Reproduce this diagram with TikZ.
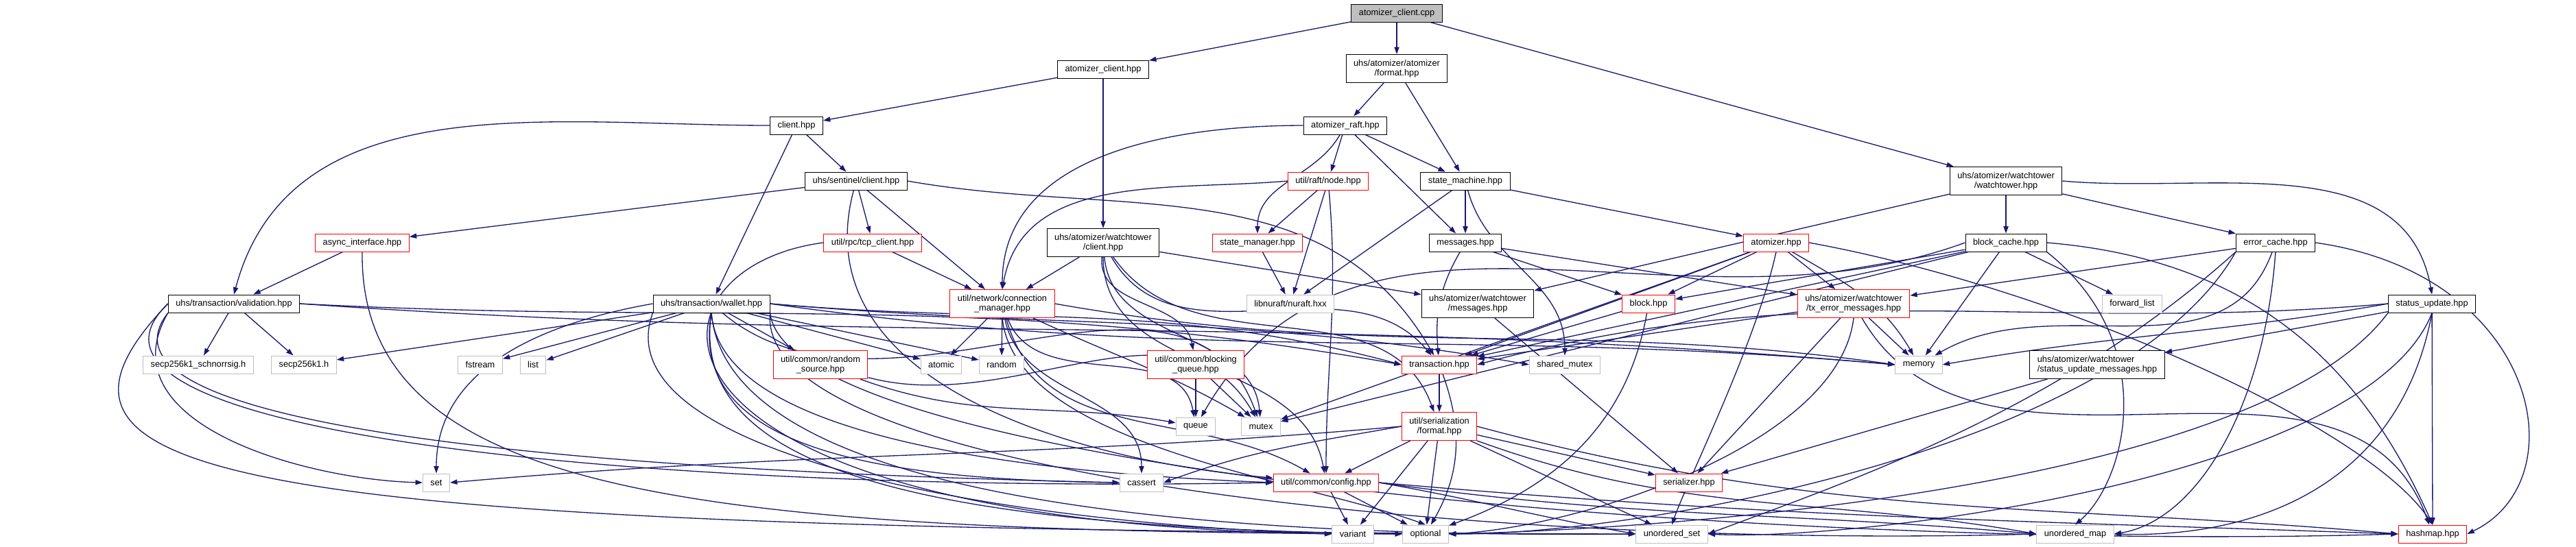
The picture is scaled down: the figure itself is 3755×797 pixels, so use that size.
\documentclass[tikz,border=0pt]{standalone}
\usepackage{fontspec}
\setmainfont{Liberation Sans}
\usepackage{tikz}
\usetikzlibrary{arrows.meta,positioning,backgrounds}

\definecolor{edgeblue}{HTML}{191970}
\definecolor{sysgray}{HTML}{BFBFBF}
\definecolor{rootgray}{HTML}{BFBFBF}

\begin{document}
\begin{tikzpicture}[x=0.25pt, y=0.25pt, every node/.style={font=\fontsize{3.2}{3.62}\selectfont}]

    % Box and edge styles
    \tikzset{
        filebox/.style={draw=black, fill=white, line width=0.25pt, minimum height=6.5pt, inner xsep=2.75pt, inner ysep=0.5pt, align=center},
        rootbox/.style={filebox, fill=rootgray},
        redbox/.style={filebox, draw=red},
        sysbox/.style={filebox, draw=sysgray},
        tall/.style={minimum height=10.25pt},
        arrow/.style={-{Triangle[length=2.6pt,width=1.8pt]}, edgeblue, line width=0.33pt}
    }

    \useasboundingbox (0,0) rectangle (3755,-797);

    % Source file
    \node[rootbox] (cpp) at (2036,-19) {atomizer\_client.cpp};

    % Upper headers
    \node[filebox] (aclienthpp) at (1608,-101) {atomizer\_client.hpp};
    \node[filebox, tall] (aformat) at (2036,-100) {uhs/atomizer/atomizer\\/format.hpp};
    \node[filebox] (clienthpp) at (1161,-183) {client.hpp};
    \node[filebox] (araft) at (1961,-183) {atomizer\_raft.hpp};
    \node[filebox] (sentinel) at (1248,-264) {uhs/sentinel/client.hpp};
    \node[redbox] (node) at (1936,-264) {util/raft/node.hpp};
    \node[filebox] (smachine) at (2136,-264) {state\_machine.hpp};
    \node[filebox, tall] (wtower) at (2924,-264) {uhs/atomizer/watchtower\\/watchtower.hpp};

    \node[redbox] (asyncif) at (528,-354) {async\_interface.hpp};
    \node[redbox] (tcpclient) at (1272,-354) {util/rpc/tcp\_client.hpp};
    \node[filebox, tall] (wtclient) at (1608,-354) {uhs/atomizer/watchtower\\/client.hpp};
    \node[redbox] (statemgr) at (1833,-354) {state\_manager.hpp};
    \node[filebox] (messages) at (2136,-354) {messages.hpp};
    \node[redbox] (atomizer) at (2589,-354) {atomizer.hpp};
    \node[filebox] (blockcache) at (2924,-354) {block\_cache.hpp};
    \node[filebox] (errorcache) at (3317,-354) {error\_cache.hpp};

    \node[filebox] (validation) at (341,-443) {uhs/transaction/validation.hpp};
    \node[filebox] (wallet) at (1037,-443) {uhs/transaction/wallet.hpp};
    \node[redbox, tall] (connmgr) at (1461,-443) {util/network/connection\\\_manager.hpp};
    \node[sysbox] (nuraft) at (1881,-443) {libnuraft/nuraft.hxx};
    \node[filebox, tall] (wtmsg) at (2154,-443) {uhs/atomizer/watchtower\\/messages.hpp};
    \node[redbox] (block) at (2403,-443) {block.hpp};
    \node[redbox, tall] (txerr) at (2702,-443) {uhs/atomizer/watchtower\\/tx\_error\_messages.hpp};
    \node[sysbox] (fwdlist) at (3108,-443) {forward\_list};
    \node[filebox] (statusupd) at (3545,-443) {status\_update.hpp};

    % Lower headers
    \node[sysbox] (schnorr) at (289,-532) {secp256k1\_schnorrsig.h};
    \node[sysbox] (secp) at (443,-532) {secp256k1.h};
    \node[sysbox] (fstream) at (700,-532) {fstream};
    \node[sysbox] (list) at (777,-532) {list};
    \node[redbox, tall] (randsrc) at (1196,-532) {util/common/random\\\_source.hpp};
    \node[sysbox] (atomic) at (1372,-532) {atomic};
    \node[sysbox] (random) at (1460,-532) {random};
    \node[redbox, tall] (bqueue) at (1743,-532) {util/common/blocking\\\_queue.hpp};
    \node[redbox] (transaction) at (2098,-532) {transaction.hpp};
    \node[sysbox] (sharedmutex) at (2281,-532) {shared\_mutex};
    \node[sysbox] (memory) at (2797,-532) {memory};
    \node[filebox, tall, align=left] (wtsum) at (3057,-532) {uhs/atomizer/watchtower\\/status\_update\_messages.hpp};

    \node[sysbox] (queue) at (1743,-622) {queue};
    \node[sysbox] (mutex) at (1838,-622) {mutex};
    \node[redbox, tall] (serformat) at (2098,-622) {util/serialization\\/format.hpp};

    \node[sysbox] (set) at (636,-704) {set};
    \node[sysbox] (cassert) at (1664,-704) {cassert};
    \node[redbox] (config) at (1933,-704) {util/common/config.hpp};
    \node[redbox] (serializer) at (2462,-704) {serializer.hpp};

    \node[sysbox] (variant) at (1972,-779) {variant};
    \node[sysbox] (optional) at (2078,-779) {optional};
    \node[sysbox] (uset) at (2437,-779) {unordered\_set};
    \node[sysbox] (umap) at (3025,-779) {unordered\_map};
    \node[redbox] (hashmap) at (3546,-779) {hashmap.hpp};

    \begin{scope}[on background layer]
    % Includes of the source file
    \draw[arrow] (cpp) -- (aclienthpp);
    \draw[arrow] (cpp) -- (aformat);
    \draw[arrow] (cpp) -- (wtower);

    % Client side
    \draw[arrow] (aclienthpp) -- (clienthpp);
    \draw[arrow] (aclienthpp) -- (wtclient);
    \draw[arrow] (clienthpp) -- (sentinel);
    \draw[arrow] (clienthpp.west) to[out=180,in=75] (validation.north);
    \draw[arrow] (clienthpp) -- (wallet);
    \draw[arrow] (sentinel) -- (asyncif);
    \draw[arrow] (sentinel) -- (tcpclient);
    \draw[arrow] (sentinel) -- (connmgr);
    \draw[arrow] (sentinel) to[out=-105,in=175] (config);
    \draw[arrow] (sentinel.east) to[out=-10,in=120] (transaction);
    \draw[arrow] (asyncif) -- (validation);
    \draw[arrow] (asyncif.south) .. controls (524,-720) and (1000,-775) .. (optional.west);
    \draw[arrow] (tcpclient) -- (connmgr);
    \draw[arrow] (tcpclient.west) .. controls (920,-390) and (880,-760) .. (variant.west);

    % Transaction headers
    \draw[arrow] (validation) -- (schnorr);
    \draw[arrow] (validation) -- (secp);
    \draw[arrow] (validation.south west) .. controls (150,-620) and (450,-700) .. (set.west);
    \draw[arrow] (validation.east) to[out=-3,in=170] (transaction.west);
    \draw[arrow] (validation.east) to[out=-4,in=175] (memory.west);
    \draw[arrow] (validation.west) .. controls (0,-700) and (300,-775) .. (uset.west);
    \draw[arrow] (validation.south west) .. controls (100,-640) and (1000,-690) .. (cassert.west);
    \draw[arrow] (validation.west) .. controls (40,-640) and (1000,-720) .. (config.west);
    \draw[arrow] (wallet) -- (fstream);
    \draw[arrow] (wallet) -- (list);
    \draw[arrow] (wallet) -- (randsrc);
    \draw[arrow] (wallet) -- (secp);
    \draw[arrow] (wallet.west) to[out=190,in=90] (set.north);
    \draw[arrow] (wallet) -- (atomic);
    \draw[arrow] (wallet) -- (random);
    \draw[arrow] (wallet.east) to[out=-5,in=165] (transaction.west);
    \draw[arrow] (wallet.east) to[out=-5,in=170] (sharedmutex.west);
    \draw[arrow] (wallet.east) to[out=-8,in=175] (memory.west);
    \draw[arrow] (wallet) to[out=-40,in=110] (mutex);
    \draw[arrow] (wallet.south west) .. controls (880,-650) and (1400,-760) .. (variant.west);
    \draw[arrow] (wallet.south) .. controls (1000,-700) and (1400,-770) .. (optional.west);
    \draw[arrow] (wallet.south) .. controls (1060,-720) and (1700,-785) .. (uset.west);
    \draw[arrow] (wallet.south east) .. controls (1100,-700) and (2200,-800) .. (umap.west);
    \draw[arrow] (wallet.south east) .. controls (1150,-690) and (2600,-805) .. (hashmap.west);
    \draw[arrow] (wallet.south) .. controls (1050,-640) and (1500,-690) .. (config.west);
    \draw[arrow] (wallet.south) .. controls (1000,-660) and (1300,-700) .. (cassert.west);

    % Network and watchtower client
    \draw[arrow] (connmgr) -- (atomic);
    \draw[arrow] (connmgr) -- (random);
    \draw[arrow] (connmgr) to[out=-70,in=100] (queue);
    \draw[arrow] (connmgr) to[out=-25,in=150] (mutex);
    \draw[arrow] (connmgr) to[out=-80,in=90] (cassert);
    \draw[arrow] (connmgr) to[out=-75,in=150] (config);
    \draw[arrow] (connmgr.east) to[out=-10,in=172] (memory.west);
    \draw[arrow] (connmgr.south) .. controls (1480,-650) and (1900,-700) .. (optional.north);
    \draw[arrow] (wtclient) -- (connmgr);
    \draw[arrow] (wtclient) -- (wtmsg);
    \draw[arrow] (wtclient) to[out=-95,in=100] (bqueue);
    \draw[arrow] (wtclient) to[out=-85,in=95] (mutex);
    \draw[arrow] (wtclient) to[out=-90,in=100] (config);
    \draw[arrow] (wtclient) to[out=-60,in=130] (transaction);
    \draw[arrow] (wtclient) to[out=-55,in=110] (serformat);

    % Raft side
    \draw[arrow] (aformat) -- (araft);
    \draw[arrow] (aformat) -- (smachine);
    \draw[arrow] (araft.west) to[out=180,in=90] (connmgr.north);
    \draw[arrow] (araft) to[out=-120,in=90] (statemgr);
    \draw[arrow] (araft) -- (node);
    \draw[arrow] (araft) -- (messages);
    \draw[arrow] (araft) -- (smachine);
    \draw[arrow] (node.west) to[out=185,in=80] (connmgr.north);
    \draw[arrow] (node) -- (statemgr);
    \draw[arrow] (node) -- (nuraft);
    \draw[arrow] (node) to[out=-85,in=90] (config);
    \draw[arrow] (smachine) -- (messages);
    \draw[arrow] (smachine) -- (nuraft);
    \draw[arrow] (smachine) to[out=-75,in=90] (sharedmutex);
    \draw[arrow] (smachine) -- (atomizer);
    \draw[arrow] (statemgr) -- (nuraft);
    \draw[arrow] (messages) to[out=-120,in=95] (transaction);
    \draw[arrow] (messages) -- (block);
    \draw[arrow] (messages) -- (txerr);

    % Watchtower side
    \draw[arrow] (wtower) -- (wtmsg);
    \draw[arrow] (wtower) -- (blockcache);
    \draw[arrow] (wtower) -- (errorcache);
    \draw[arrow] (wtower.east) to[out=-5,in=100] (statusupd.north);
    \draw[arrow] (atomizer) -- (block);
    \draw[arrow] (atomizer) -- (txerr);
    \draw[arrow] (atomizer) -- (transaction);
    \draw[arrow] (atomizer) -- (mutex);
    \draw[arrow] (atomizer) to[out=-30,in=120] (memory);
    \draw[arrow] (atomizer.east) .. controls (3000,-420) and (3450,-620) .. (hashmap.north);
    \draw[arrow] (atomizer.south) .. controls (2560,-500) and (2460,-700) .. (uset.north);
    \draw[arrow] (blockcache) -- (block);
    \draw[arrow] (blockcache) -- (fwdlist);
    \draw[arrow] (blockcache) -- (memory);
    \draw[arrow] (blockcache) -- (mutex);
    \draw[arrow] (blockcache) -- (transaction);
    \draw[arrow] (blockcache.west) to[out=200,in=60] (queue);
    \draw[arrow] (blockcache.south east) .. controls (3150,-500) and (3100,-700) .. (umap.north);
    \draw[arrow] (blockcache.east) .. controls (3300,-380) and (3450,-550) .. (hashmap.north);
    \draw[arrow] (errorcache) -- (txerr);
    \draw[arrow] (errorcache) to[out=-110,in=30] (memory);
    \draw[arrow] (errorcache.south west) .. controls (3000,-600) and (2700,-700) .. (uset.east);
    \draw[arrow] (errorcache.south) .. controls (3300,-600) and (3200,-760) .. (umap.east);
    \draw[arrow] (errorcache.east) .. controls (3700,-400) and (3760,-700) .. (hashmap.east);
    \draw[arrow] (errorcache.south west) .. controls (3100,-650) and (2400,-780) .. (optional.east);
    \draw[arrow] (statusupd) -- (wtsum);
    \draw[arrow] (statusupd.west) to[out=190,in=10] (memory.east);
    \draw[arrow] (statusupd.west) to[out=185,in=15] (transaction.east);
    \draw[arrow] (statusupd.south west) .. controls (3300,-700) and (2500,-770) .. (optional.east);
    \draw[arrow] (statusupd.south) .. controls (3450,-700) and (2700,-790) .. (uset.east);
    \draw[arrow] (statusupd.south) .. controls (3500,-700) and (3300,-785) .. (umap.east);
    \draw[arrow] (statusupd) -- (hashmap);
    \draw[arrow] (txerr) -- (memory);
    \draw[arrow] (txerr) -- (serializer);
    \draw[arrow] (txerr) -- (transaction);
    \draw[arrow] (txerr.south) .. controls (2680,-650) and (2300,-770) .. (optional.east);
    \draw[arrow] (txerr) to[out=-60,in=110] (hashmap);
    \draw[arrow] (wtmsg) -- (serializer);
    \draw[arrow] (wtsum) -- (serializer);

    % Shared low level headers
    \draw[arrow] (block) -- (transaction);
    \draw[arrow] (block) to[out=-100,in=20] (optional);
    \draw[arrow] (transaction) -- (serformat);
    \draw[arrow] (transaction) to[out=-70,in=60] (optional);
    \draw[arrow] (randsrc) to[out=-20,in=170] (queue);
    \draw[arrow] (randsrc) to[out=-15,in=120] (mutex);
    \draw[arrow] (bqueue) -- (queue);
    \draw[arrow] (bqueue) -- (mutex);
    \draw[arrow] (serformat.west) to[out=185,in=5] (set.east);
    \draw[arrow] (serformat.west) to[out=190,in=20] (cassert.east);
    \draw[arrow] (serformat) -- (config);
    \draw[arrow] (serformat) -- (variant);
    \draw[arrow] (serformat) -- (optional);
    \draw[arrow] (serformat) -- (serializer);
    \draw[arrow] (serformat) -- (uset);
    \draw[arrow] (serformat.south east) to[out=-20,in=170] (umap.west);
    \draw[arrow] (serformat.east) to[out=-15,in=175] (hashmap.west);
    \draw[arrow] (config) -- (variant);
    \draw[arrow] (config) -- (optional);
    \draw[arrow] (config.east) to[out=-10,in=170] (uset.west);
    \draw[arrow] (config.east) to[out=-8,in=175] (umap.west);
    \draw[arrow] (config.east) to[out=-5,in=178] (hashmap.west);
    \end{scope}

\end{tikzpicture}
\end{document}
